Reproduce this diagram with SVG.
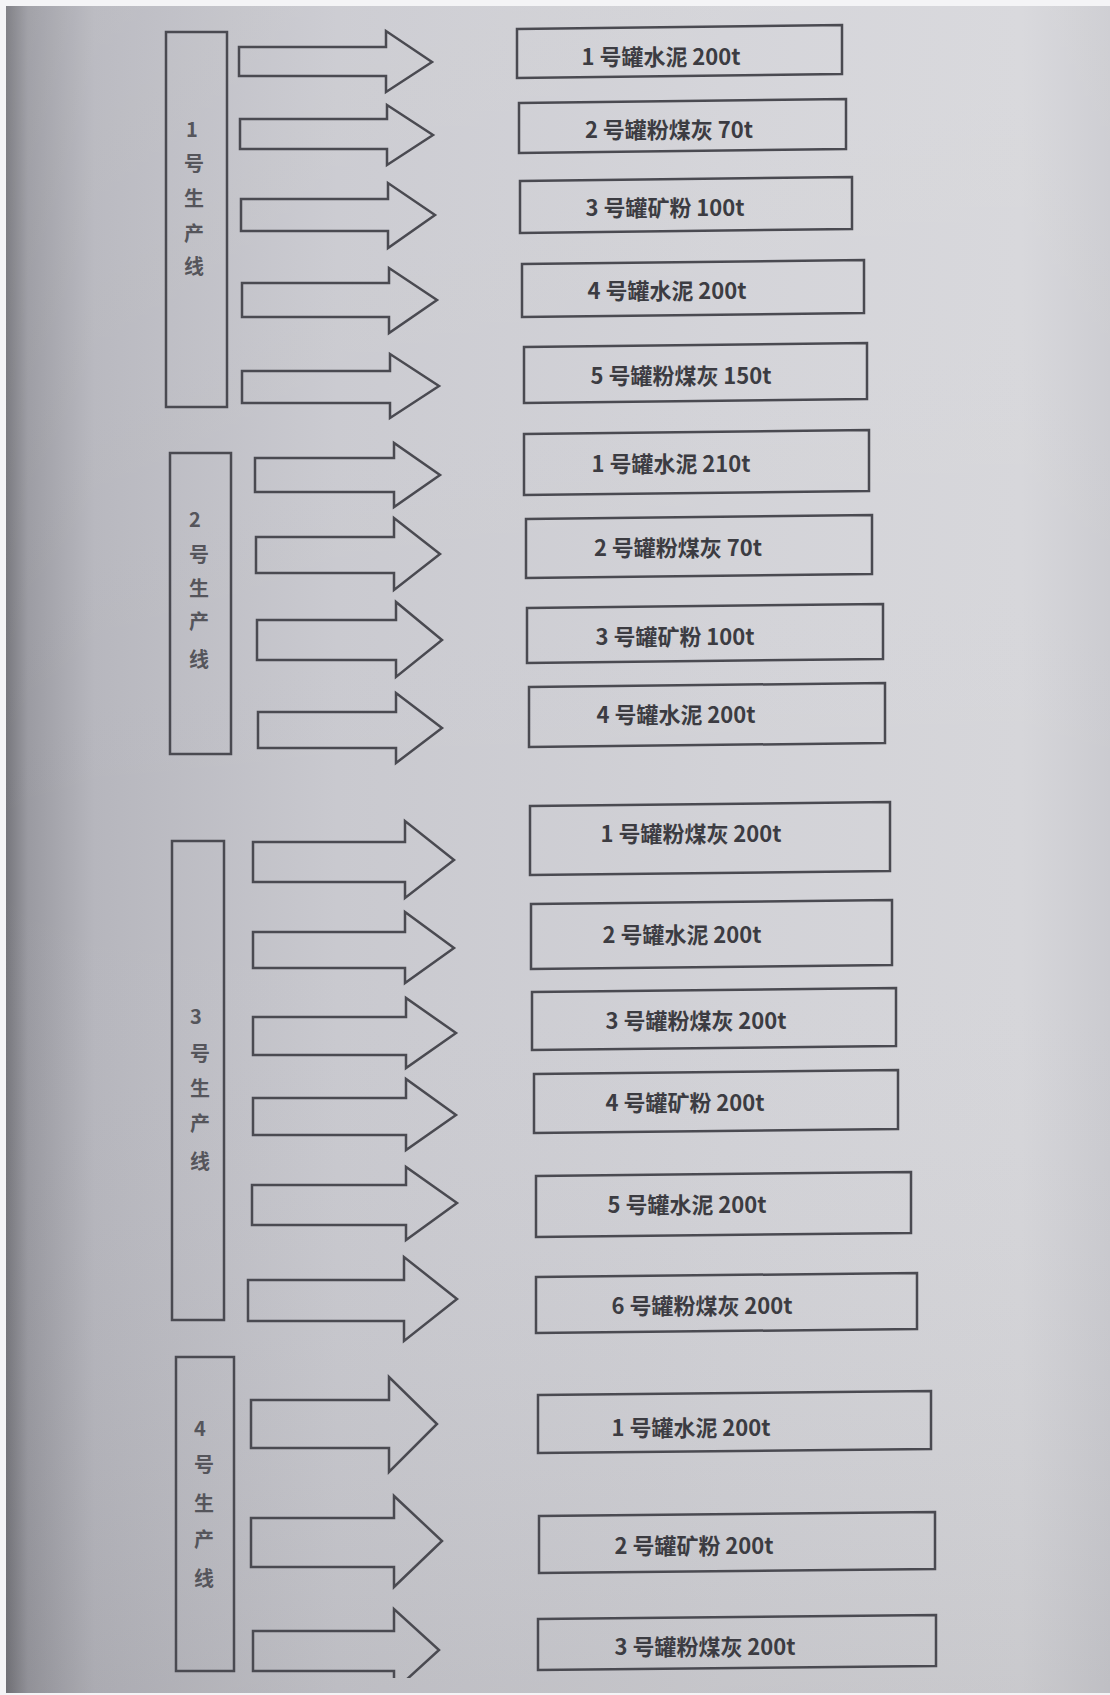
<svg xmlns="http://www.w3.org/2000/svg" width="1110" height="1695" viewBox="0 0 1110 1695">
<defs>
<linearGradient id="paperH" x1="0" y1="0" x2="1" y2="0">
<stop offset="0" stop-color="#76767c"/>
<stop offset="0.02" stop-color="#9a9aa1"/>
<stop offset="0.08" stop-color="#b6b6bd"/>
<stop offset="0.3" stop-color="#c9c9cf"/>
<stop offset="0.65" stop-color="#d2d2d7"/>
<stop offset="0.92" stop-color="#d6d6da"/>
<stop offset="1" stop-color="#cbcbd0"/>
</linearGradient>
<linearGradient id="paperV" x1="0" y1="0" x2="0" y2="1">
<stop offset="0" stop-color="#ffffff" stop-opacity="0.08"/>
<stop offset="0.5" stop-color="#ffffff" stop-opacity="0"/>
<stop offset="1" stop-color="#000000" stop-opacity="0.06"/>
</linearGradient>
<clipPath id="paperClip"><rect x="0" y="0" width="1110" height="1678"/></clipPath>
<style>
.ln{fill:none;stroke:#4a4a51;stroke-width:2.5;stroke-linejoin:miter}
.tk{fill:none;stroke:#4a4a51;stroke-width:2.5}
.lbl{font-family:"Noto Sans CJK SC","Noto Sans",sans-serif;font-size:22px;font-weight:bold;fill:#3c3c42;text-anchor:middle;dominant-baseline:central}
.vl{font-family:"Noto Sans CJK SC","Noto Sans",sans-serif;font-size:20px;font-weight:bold;fill:#55555b;text-anchor:middle;dominant-baseline:central}
</style>
</defs>
<rect x="0" y="0" width="1110" height="1695" fill="#f4f4f6"/>
<rect x="6" y="6" width="1104" height="1687" fill="url(#paperH)"/>
<rect x="6" y="6" width="1104" height="1687" fill="url(#paperV)"/>

<g id="line1">
<rect class="ln" x="166" y="32" width="61" height="375"/>
<text class="vl" x="192" y="128">1</text><text class="vl" x="194" y="162">号</text><text class="vl" x="194" y="197">生</text><text class="vl" x="194" y="232">产</text><text class="vl" x="194" y="265">线</text>
</g>
<g id="line2">
<rect class="ln" x="170" y="453" width="61" height="301"/>
<text class="vl" x="195" y="518">2</text><text class="vl" x="199" y="553">号</text><text class="vl" x="199" y="587">生</text><text class="vl" x="199" y="620">产</text><text class="vl" x="199" y="658">线</text>
</g>
<g id="line3">
<rect class="ln" x="172" y="841" width="52" height="479"/>
<text class="vl" x="196" y="1015">3</text><text class="vl" x="200" y="1052">号</text><text class="vl" x="200" y="1087">生</text><text class="vl" x="200" y="1122">产</text><text class="vl" x="200" y="1160">线</text>
</g>
<g id="line4">
<rect class="ln" x="176" y="1357" width="58" height="314"/>
<text class="vl" x="200" y="1427">4</text><text class="vl" x="204" y="1463">号</text><text class="vl" x="204" y="1502">生</text><text class="vl" x="204" y="1538">产</text><text class="vl" x="204" y="1577">线</text>
</g>

<g id="connectors">
<polygon class="tk" points="239,47 386,47 386,31 432,62 386,92 386,76 239,76"/>
<polygon class="tk" points="240,119 387,119 387,105 433,135 387,165 387,149 240,149"/>
<polygon class="tk" points="241,199 388,199 388,183 435,215 388,248 388,231 241,231"/>
<polygon class="tk" points="242,283 389,283 389,268 437,300 389,333 389,317 242,317"/>
<polygon class="tk" points="242,371 390,371 390,354 439,386 390,418 390,403 242,403"/>
<polygon class="tk" points="255,458 394,458 394,443 440,475 394,507 394,492 255,492"/>
<polygon class="tk" points="256,537 394,537 394,518 440,554 394,590 394,573 256,573"/>
<polygon class="tk" points="257,620 396,620 396,602 442,640 396,677 396,660 257,660"/>
<polygon class="tk" points="258,712 396,712 396,693 442,728 396,763 396,748 258,748"/>
<polygon class="tk" points="253,842 405,842 405,821 454,860 405,898 405,882 253,882"/>
<polygon class="tk" points="253,932 405,932 405,912 454,948 405,983 405,968 253,968"/>
<polygon class="tk" points="253,1017 406,1017 406,998 456,1033 406,1068 406,1055 253,1055"/>
<polygon class="tk" points="253,1098 406,1098 406,1079 456,1115 406,1150 406,1135 253,1135"/>
<polygon class="tk" points="252,1185 406,1185 406,1167 457,1203 406,1240 406,1225 252,1225"/>
<polygon class="tk" points="248,1280 404,1280 404,1257 457,1299 404,1341 404,1321 248,1321"/>
<polygon class="tk" points="251,1400 389,1400 389,1377 437,1424 389,1472 389,1448 251,1448"/>
<polygon class="tk" points="251,1518 394,1518 394,1496 442,1541 394,1587 394,1567 251,1567"/>
<polygon class="tk" clip-path="url(#paperClip)" points="253,1631 394,1631 394,1609 439,1650 394,1691 394,1671 253,1671"/>
</g>

<g id="l1-t1"><polygon class="ln" points="517,29 842,25 842,74 517,78"/><text class="lbl" x="661" y="55">1 号罐水泥 200t</text></g>
<g id="l1-t2"><polygon class="ln" points="519,103 846,99 846,149 519,153"/><text class="lbl" x="669" y="128">2 号罐粉煤灰 70t</text></g>
<g id="l1-t3"><polygon class="ln" points="520,181 852,177 852,229 520,233"/><text class="lbl" x="665" y="206">3 号罐矿粉 100t</text></g>
<g id="l1-t4"><polygon class="ln" points="522,264 864,260 864,313 522,317"/><text class="lbl" x="667" y="289">4 号罐水泥 200t</text></g>
<g id="l1-t5"><polygon class="ln" points="524,347 867,343 867,399 524,403"/><text class="lbl" x="681" y="374">5 号罐粉煤灰 150t</text></g>

<g id="l2-t1"><polygon class="ln" points="524,434 869,430 869,491 524,495"/><text class="lbl" x="671" y="462">1 号罐水泥 210t</text></g>
<g id="l2-t2"><polygon class="ln" points="526,519 872,515 872,574 526,578"/><text class="lbl" x="678" y="546">2 号罐粉煤灰 70t</text></g>
<g id="l2-t3"><polygon class="ln" points="527,608 883,604 883,659 527,663"/><text class="lbl" x="675" y="635">3 号罐矿粉 100t</text></g>
<g id="l2-t4"><polygon class="ln" points="529,687 885,683 885,743 529,747"/><text class="lbl" x="676" y="713">4 号罐水泥 200t</text></g>

<g id="l3-t1"><polygon class="ln" points="530,806 890,802 890,871 530,875"/><text class="lbl" x="691" y="832">1 号罐粉煤灰 200t</text></g>
<g id="l3-t2"><polygon class="ln" points="531,904 892,900 892,965 531,969"/><text class="lbl" x="682" y="933">2 号罐水泥 200t</text></g>
<g id="l3-t3"><polygon class="ln" points="532,992 896,988 896,1046 532,1050"/><text class="lbl" x="696" y="1019">3 号罐粉煤灰 200t</text></g>
<g id="l3-t4"><polygon class="ln" points="534,1074 898,1070 898,1129 534,1133"/><text class="lbl" x="685" y="1101">4 号罐矿粉 200t</text></g>
<g id="l3-t5"><polygon class="ln" points="536,1176 911,1172 911,1233 536,1237"/><text class="lbl" x="687" y="1203">5 号罐水泥 200t</text></g>
<g id="l3-t6"><polygon class="ln" points="536,1277 917,1273 917,1329 536,1333"/><text class="lbl" x="702" y="1304">6 号罐粉煤灰 200t</text></g>

<g id="l4-t1"><polygon class="ln" points="538,1395 931,1391 931,1449 538,1453"/><text class="lbl" x="691" y="1426">1 号罐水泥 200t</text></g>
<g id="l4-t2"><polygon class="ln" points="539,1516 935,1512 935,1569 539,1573"/><text class="lbl" x="694" y="1544">2 号罐矿粉 200t</text></g>
<g id="l4-t3"><polygon class="ln" points="538,1619 936,1615 936,1666 538,1670"/><text class="lbl" x="705" y="1645">3 号罐粉煤灰 200t</text></g>
</svg>
